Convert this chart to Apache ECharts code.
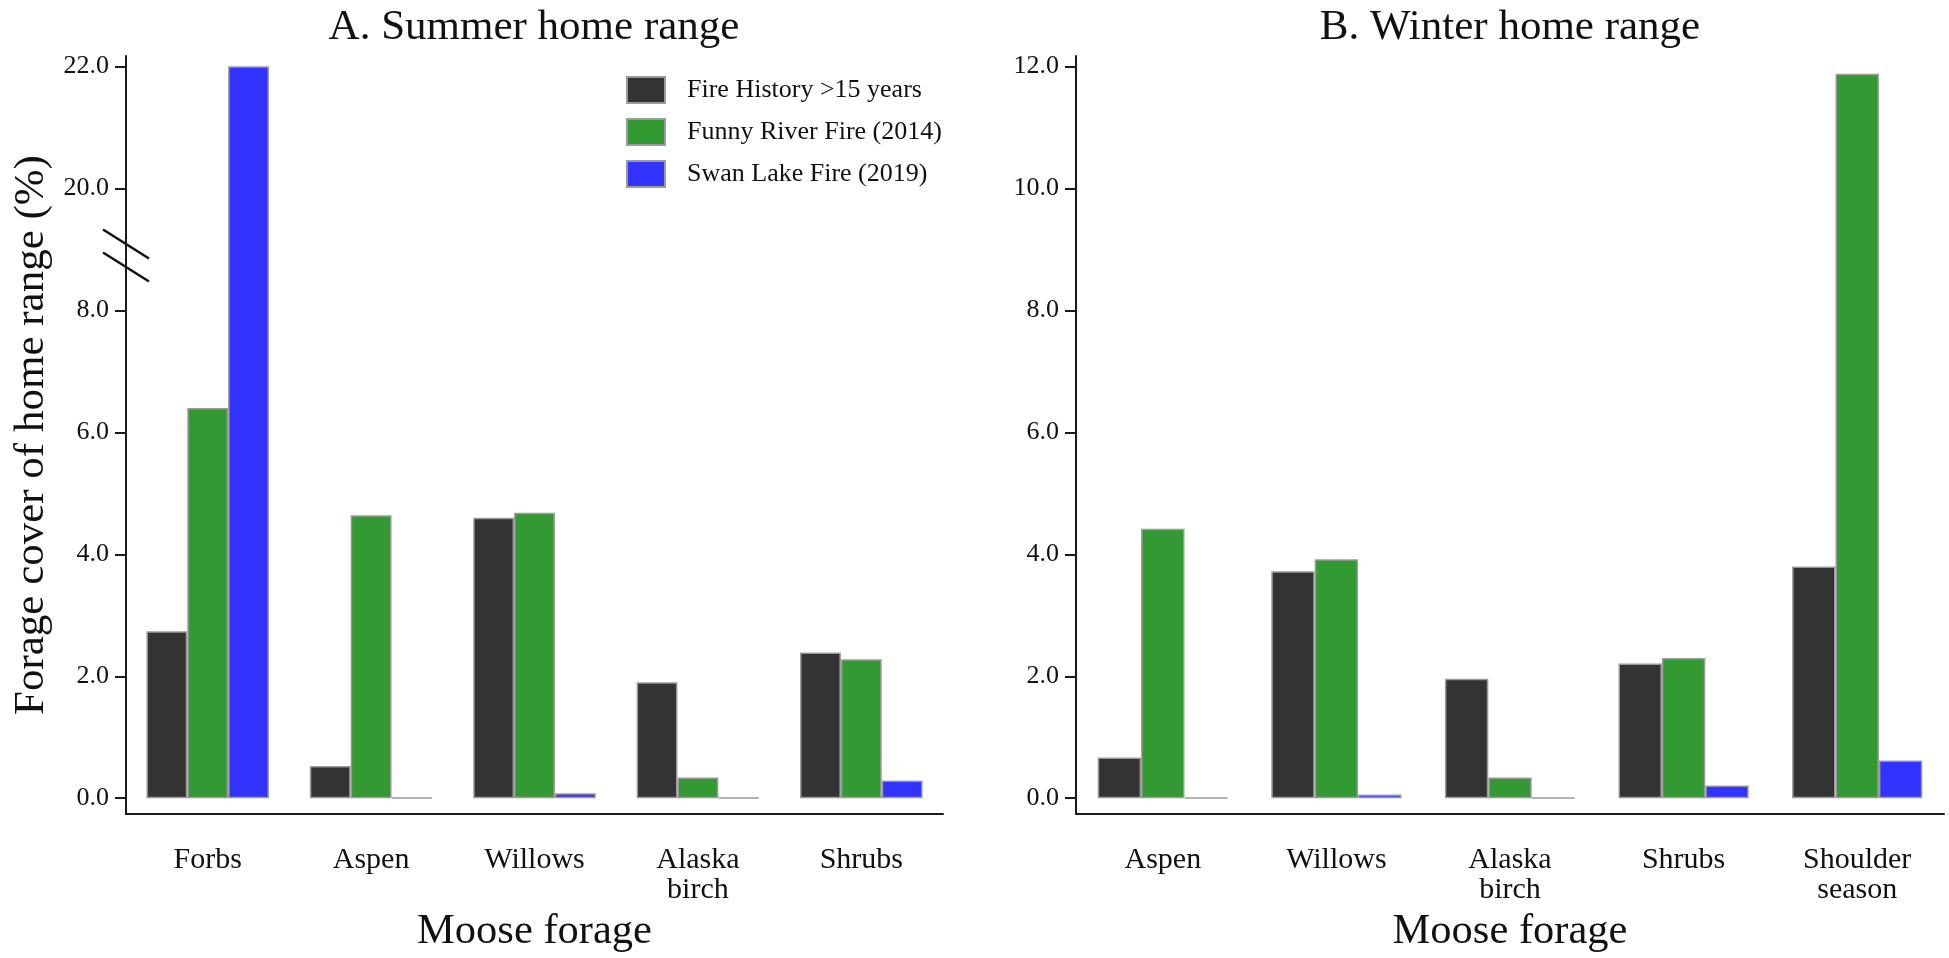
<!DOCTYPE html>
<html>
<head>
<meta charset="utf-8">
<title>Moose forage cover</title>
<script src="https://cdn.jsdelivr.net/npm/echarts@6.0.0/dist/echarts.min.js"></script>
<style>
  html, body { margin: 0; padding: 0; background: #fff; }
  #chart { width: 1949px; height: 958px; }
</style>
</head>
<body>
<div id="chart"></div>
<script>
// categories
const summerCats = ['Forbs', 'Aspen', 'Willows', 'Alaska\nbirch', 'Shrubs'];
const winterCats = ['Aspen', 'Willows', 'Alaska\nbirch', 'Shrubs', 'Shoulder\nseason'];
const seriesNames = ['Fire History >15 years', 'Funny River Fire (2014)', 'Swan Lake Fire (2019)'];

// values (% forage cover)
const summerOld   = [2.74, 0.53, 4.60, 1.90, 2.39];
const summerFunny = [6.40, 4.64, 4.68, 0.34, 2.28];
const summerSwan  = [22.0, 0.01, 0.08, 0.01, 0.29];

const winterOld   = [0.67, 3.72, 1.96, 2.21, 3.80];
const winterFunny = [4.42, 3.92, 0.34, 2.30, 11.88];
const winterSwan  = [0.01, 0.06, 0.01, 0.21, 0.62];

// tick labels
const summerTicks = [0, 2, 4, 6, 8, 20, 22];
const winterTicks = [0, 2, 4, 6, 8, 10, 12];

// summer axis is broken between these two values
const breakFrom = 9;
const breakTo = 19;
const squeeze = v => (v >= breakTo ? v - (breakTo - breakFrom) : v);
const unsqueeze = v => (v > breakFrom ? v + (breakTo - breakFrom) : v);

const colors = ['#333333', '#339933', '#3333ff'];
const font = "'Liberation Serif', 'Times New Roman', serif";
const ink = '#111';

const chart = echarts.init(document.getElementById('chart'));

const gridA = { left: 126, top: 56, width: 817, height: 762 };
const gridB = { left: 1076, top: 56, width: 868, height: 762 };

function xAxisFor(cats, gridIndex) {
    return {
        type: 'category',
        gridIndex,
        data: cats,
        name: 'Moose forage',
        nameLocation: 'middle',
        nameGap: 91,
        nameTextStyle: { fontFamily: font, fontSize: 42.5, color: ink },
        axisLine: { onZero: false, lineStyle: { color: '#1a1a1a', width: 2 } },
        axisTick: { alignWithLabel: true, length: 11, lineStyle: { color: '#1a1a1a', width: 2 } },
        axisLabel: { fontFamily: font, fontSize: 30, lineHeight: 30, color: ink, margin: 31, interval: 0 }
    };
}

function yAxisFor(ticks, gridIndex, broken) {
    const vals = ticks.map(t => (broken ? squeeze(t) : t));
    const axis = {
        type: 'value',
        gridIndex,
        min: -0.26,
        max: 12.17,
        splitLine: { show: false },
        axisLine: { show: true, lineStyle: { color: '#1a1a1a', width: 2 } },
        axisTick: { show: true, length: 11, lineStyle: { color: '#1a1a1a', width: 2 }, customValues: vals },
        axisLabel: {
            fontFamily: font, fontSize: 26, color: ink, margin: 17,
            customValues: vals,
            formatter: v => (broken ? unsqueeze(v) : v).toFixed(1)
        }
    };
    if (broken) {
        axis.name = 'Forage cover of home range (%)';
        axis.nameLocation = 'middle';
        axis.nameRotate = 90;
        axis.nameGap = 73;
        axis.nameTextStyle = { fontFamily: font, fontSize: 43, color: ink };
    }
    return axis;
}

function barSeries(name, values, idx, axisIndex, broken) {
    return {
        name,
        type: 'bar',
        xAxisIndex: axisIndex,
        yAxisIndex: axisIndex,
        data: values.map(v => (broken ? squeeze(v) : v)),
        barGap: '0%',
        barCategoryGap: '25%',
        itemStyle: { color: colors[idx], borderColor: '#9a9a9a', borderWidth: 1.5 }
    };
}

const summerSets = [summerOld, summerFunny, summerSwan];
const winterSets = [winterOld, winterFunny, winterSwan];

chart.setOption({
    backgroundColor: '#fff',
    animation: false,
    title: [
        { text: 'A. Summer home range', left: 534, top: 6, textAlign: 'center', padding: 0,
          textStyle: { fontFamily: font, fontSize: 43, fontWeight: 'normal', color: ink } },
        { text: 'B. Winter home range', left: 1510, top: 6, textAlign: 'center', padding: 0,
          textStyle: { fontFamily: font, fontSize: 43, fontWeight: 'normal', color: ink } }
    ],
    legend: {
        data: seriesNames,
        orient: 'vertical',
        left: 626,
        top: 76,
        padding: 0,
        icon: 'rect',
        itemWidth: 38,
        itemHeight: 26,
        itemGap: 14,
        textStyle: { fontFamily: font, fontSize: 26, color: ink, padding: [0, 0, 0, 17] }
    },
    grid: [gridA, gridB],
    xAxis: [xAxisFor(summerCats, 0), xAxisFor(winterCats, 1)],
    yAxis: [yAxisFor(summerTicks, 0, true), yAxisFor(winterTicks, 1, false)],
    series: [
        ...summerSets.map((vals, i) => barSeries(seriesNames[i], vals, i, 0, true)),
        ...winterSets.map((vals, i) => barSeries(seriesNames[i], vals, i, 1, false))
    ]
});

// "\\" break marks on the summer y axis, placed at the break point
const yBreak = chart.convertToPixel({ yAxisIndex: 0 }, breakFrom - 0.1);
const xAxisPos = gridA.left;
const mark = (dy) => ({
    type: 'line',
    shape: { x1: xAxisPos - 23, y1: yBreak + dy - 14.5, x2: xAxisPos + 23, y2: yBreak + dy + 14.5 },
    style: { stroke: '#111', lineWidth: 2.5 }
});
chart.setOption({ graphic: [mark(-11.5), mark(11.5)] });
</script>
</body>
</html>
